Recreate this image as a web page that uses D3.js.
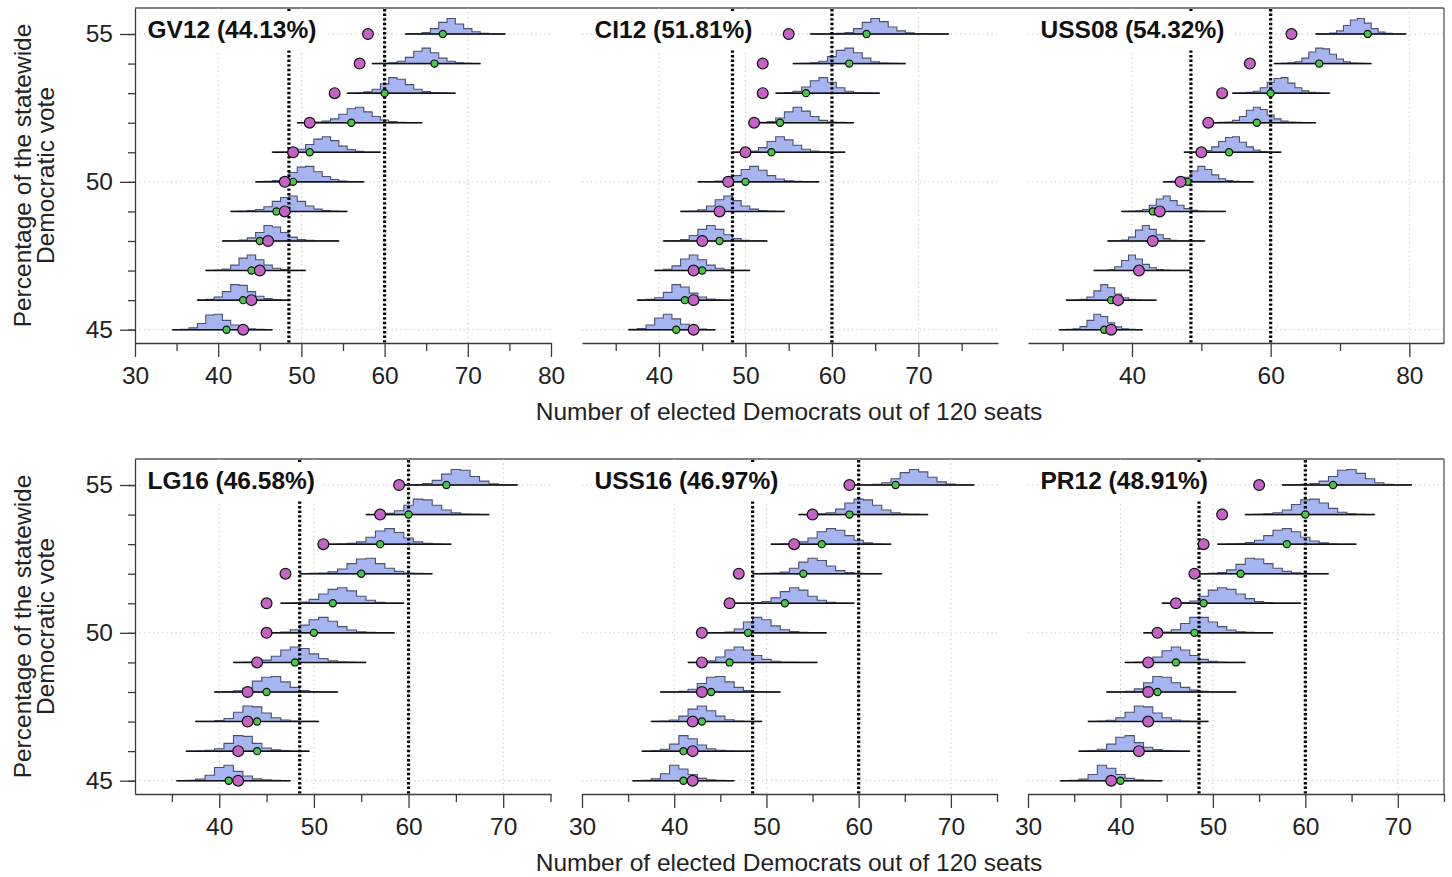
<!DOCTYPE html>
<html><head><meta charset="utf-8">
<script src="https://cdn.jsdelivr.net/npm/d3@7/dist/d3.min.js"></script>
<style>body{margin:0;background:#fff}svg{display:block}</style>
</head><body>
<svg id="chart" width="1452" height="877"></svg>
<script>
// ---------------- DATA ----------------
const voteLevels = [45,46,47,48,49,50,51,52,53,54,55];
const panelTitles = ["GV12 (44.13%)","CI12 (51.81%)","USS08 (54.32%)","LG16 (46.58%)","USS16 (46.97%)","PR12 (48.91%)"];
const yTickLabels = [45,50,55];
const refSeats = [48.5, 60];
const xTitle = "Number of elected Democrats out of 120 seats";
const yTitleLines = ["Percentage of the statewide","Democratic vote"];

const GV12_ticks = [30,40,50,60,70,80], GV12_minor = [35,45,55,65,75];
const CI12_ticks = [40,50,60,70], CI12_minor = [35,45,55,65,75];
const USS08_ticks = [40,60,80], USS08_minor = [30,50,70];
const LG16_ticks = [40,50,60,70], LG16_minor = [35,45,55,65,75];
const USS16_ticks = [30,40,50,60,70], USS16_minor = [35,45,55,65,75];
const PR12_ticks = [30,40,50,60,70], PR12_minor = [35,45,55,65,75];

// seats (green = simulated median, purple = observed), whisker range, histograms (relative, 1-seat bins from lo+0.5)
const GV12_green  = [41,43,44,45,47,49,51,56,60,66,67];
const GV12_purple = [43,44,45,46,48,48,49,51,54,57,58];
const GV12_lo = [34.5,37.5,38.5,40.5,41.5,44.5,46.5,49.5,55.5,58.5,62.5];
const GV12_hi = [46.5,48.5,50.5,54.5,55.5,57.5,59.5,64.5,68.5,71.5,74.5];
const GV12_hist = [
 [1,3,12,40,95,100,60,30,12,5,2,1],
 [2,6,20,55,100,95,55,25,10,4,1],
 [1,3,10,35,80,100,70,35,15,6,2,1],
 [1,2,6,20,55,100,90,55,25,10,5,2,1,1],
 [1,2,5,12,30,65,90,100,65,35,15,6,2,1],
 [1,3,8,25,60,95,100,65,35,15,6,2,1],
 [1,2,6,20,50,85,100,75,40,18,7,2,1],
 [1,2,4,10,25,55,90,100,70,40,18,7,3,1,1],
 [1,3,8,25,60,100,90,55,25,10,4,2,1],
 [1,2,5,15,40,80,100,70,35,15,5,2,1],
 [1,3,10,35,75,100,65,35,15,5,2,1]];

const CI12_green  = [42,43,45,47,47,50,53,54,57,62,64];
const CI12_purple = [44,44,44,45,47,48,50,51,52,52,55];
const CI12_lo = [36.5,37.5,39.5,40.5,42.5,44.5,48.5,51.5,53.5,55.5,57.5];
const CI12_hi = [46.5,48.5,50.5,52.5,54.5,58.5,61.5,62.5,65.5,68.5,73.5];
const CI12_hist = [
 [2,8,30,75,100,70,35,12,4,1],
 [2,5,15,50,100,85,45,20,7,2,1],
 [2,8,30,75,100,70,35,15,5,2,1],
 [1,3,10,35,75,100,75,40,15,5,2,1],
 [1,3,10,35,75,100,70,35,15,5,2,1],
 [1,2,5,15,40,80,100,75,40,18,7,3,1,1],
 [1,3,8,30,70,100,80,45,20,8,3,1,1],
 [2,8,30,70,100,75,40,15,5,2,1],
 [1,4,12,40,80,100,70,35,12,4,2,1],
 [1,2,5,15,45,85,100,70,35,12,4,2,1],
 [1,1,2,4,10,35,75,100,80,45,20,8,3,2,1,1]];

const USS08_green  = [36,37,41,43,43,48,54,58,60,67,74];
const USS08_purple = [37,38,41,43,44,47,50,51,53,57,63];
const USS08_lo = [29.5,30.5,34.5,36.5,38.5,44.5,47.5,51.5,54.5,60.5,66.5];
const USS08_hi = [41.5,43.5,48.5,50.5,53.5,57.5,61.5,66.5,68.5,74.5,79.5];
const USS08_hist = [
 [1,2,5,20,60,100,85,45,18,6,2,1],
 [1,2,5,20,60,100,80,40,15,5,2,1,1],
 [1,2,5,25,65,100,75,40,18,7,3,2,1,1],
 [1,2,6,25,70,100,75,40,15,5,2,1,1,1],
 [1,2,4,12,40,80,100,70,40,18,7,3,1,1,1],
 [1,3,8,30,70,100,80,45,20,8,3,1,1],
 [1,2,5,12,35,70,95,100,65,35,15,5,2,1],
 [1,2,5,15,40,80,100,85,50,25,10,4,2,1,1],
 [1,2,5,12,35,70,95,100,65,35,15,5,2,1],
 [1,2,5,12,35,75,100,95,60,30,12,4,2,1],
 [1,2,6,20,55,90,100,70,35,12,4,2,1]];

const LG16_green  = [41,44,44,45,48,50,52,55,57,60,64];
const LG16_purple = [42,42,43,43,44,45,45,47,51,57,59];
const LG16_lo = [35.5,36.5,37.5,39.5,41.5,45.5,46.5,48.5,51.5,55.5,59.5];
const LG16_hi = [47.5,49.5,50.5,52.5,55.5,58.5,59.5,62.5,64.5,68.5,71.5];
const LG16_hist = [
 [1,3,10,35,85,100,60,30,12,5,2,1],
 [1,2,5,15,50,100,95,50,20,8,3,1,1],
 [1,2,6,20,60,100,95,55,25,10,4,2,1],
 [1,3,8,25,70,95,100,65,30,10,3,1,1],
 [1,2,5,15,40,80,100,90,55,25,10,4,2,1],
 [2,6,20,50,85,100,75,40,18,7,3,1,1],
 [1,3,8,25,60,90,100,80,45,20,7,2,1],
 [1,2,4,12,30,65,95,100,65,35,15,5,2,1],
 [1,2,5,15,45,85,100,75,40,15,5,2,1],
 [1,3,8,25,60,100,95,60,30,12,4,2,1],
 [1,3,10,30,70,100,95,55,25,8,3,1]];

const USS16_green  = [41,41,43,44,46,48,52,54,56,59,64];
const USS16_purple = [42,42,42,43,43,43,46,47,53,55,59];
const USS16_lo = [35.5,36.5,37.5,38.5,41.5,43.5,46.5,48.5,50.5,53.5,59.5];
const USS16_hi = [46.5,48.5,49.5,51.5,55.5,56.5,59.5,62.5,63.5,67.5,72.5];
const USS16_hist = [
 [1,3,12,45,100,75,40,15,5,2,1],
 [1,3,12,45,100,80,40,15,5,2,1,1],
 [1,3,10,35,80,100,70,35,12,4,2,1],
 [1,2,5,18,55,95,100,65,30,10,3,1,1],
 [1,3,10,35,80,100,80,45,20,8,3,2,1,1],
 [1,2,6,25,70,100,85,45,20,8,3,1,1],
 [1,2,5,12,35,75,100,85,45,20,7,2,1],
 [1,2,4,10,35,75,100,85,50,20,8,3,1,1],
 [1,2,5,15,40,80,100,90,55,25,8,2,1],
 [1,2,5,12,35,75,100,95,60,30,12,4,2,1],
 [1,2,5,15,40,80,100,85,50,20,7,2,1]];

const PR12_green  = [40,42,43,44,46,48,49,53,58,60,63];
const PR12_purple = [39,42,43,43,43,44,46,48,49,51,55];
const PR12_lo = [33.5,35.5,36.5,38.5,40.5,42.5,44.5,48.5,50.5,53.5,57.5];
const PR12_hi = [44.5,47.5,49.5,52.5,53.5,56.5,59.5,62.5,65.5,67.5,71.5];
const PR12_hist = [
 [1,3,10,40,100,80,40,15,5,2,1],
 [1,3,12,45,90,100,55,25,10,4,2,1],
 [1,3,8,25,60,100,95,55,25,10,4,2,1],
 [1,2,5,20,60,100,95,60,30,12,5,2,1,1],
 [1,3,10,35,75,100,80,45,20,8,3,1,1],
 [1,2,6,20,60,100,100,70,40,18,7,3,1,1],
 [1,2,5,15,45,85,100,90,60,30,12,5,2,1,1],
 [1,3,8,25,60,100,95,65,35,15,6,2,1,1],
 [1,2,4,10,25,55,90,100,80,45,20,8,3,1,1],
 [1,2,5,12,30,65,95,100,75,40,15,5,2,1],
 [1,2,4,10,25,55,95,100,75,40,15,5,2,1]];

// ---------------- LAYOUT ----------------
const FONT = "'Liberation Sans', Arial, Helvetica, sans-serif";
const rows = [{top:8, bottom:343}, {top:459, bottom:794}];
const panels = [
 {title:panelTitles[0], row:0, col:0, xr:[135,551], dom:[30,80],   ticks:GV12_ticks, minor:GV12_minor, g:GV12_green, p:GV12_purple, lo:GV12_lo, hi:GV12_hi, hist:GV12_hist},
 {title:panelTitles[1], row:0, col:1, xr:[582,998], dom:[31.1,79.2], ticks:CI12_ticks, minor:CI12_minor, g:CI12_green, p:CI12_purple, lo:CI12_lo, hi:CI12_hi, hist:CI12_hist},
 {title:panelTitles[2], row:0, col:2, xr:[1028,1444], dom:[25,85], ticks:USS08_ticks, minor:USS08_minor, g:USS08_green, p:USS08_purple, lo:USS08_lo, hi:USS08_hi, hist:USS08_hist},
 {title:panelTitles[3], row:1, col:0, xr:[135,551], dom:[31.1,75.05], ticks:LG16_ticks, minor:LG16_minor, g:LG16_green, p:LG16_purple, lo:LG16_lo, hi:LG16_hi, hist:LG16_hist},
 {title:panelTitles[4], row:1, col:1, xr:[582,997], dom:[30,75],   ticks:USS16_ticks, minor:USS16_minor, g:USS16_green, p:USS16_purple, lo:USS16_lo, hi:USS16_hi, hist:USS16_hist},
 {title:panelTitles[5], row:1, col:2, xr:[1028,1444], dom:[30,75], ticks:PR12_ticks, minor:PR12_minor, g:PR12_green, p:PR12_purple, lo:PR12_lo, hi:PR12_hi, hist:PR12_hist}
];

const svg = d3.select("#chart");
const AX = "#3a3a3a";
const hScale = d3.scaleLinear().domain([0,100]).range([0,15.5]);

function styleAxis(g){
  g.attr("font-size", null).attr("font-family", null);
  g.selectAll("path.domain").attr("stroke", AX).attr("stroke-width", 1.3);
  g.selectAll(".tick line").attr("stroke", AX).attr("stroke-width", 1.3);
  g.selectAll(".tick text").attr("fill", "#222").style("font-family", FONT).style("font-size", "24.5px");
}

// frames per row
rows.forEach(r => {
  svg.append("line").attr("x1",135).attr("x2",1444).attr("y1",r.top).attr("y2",r.top).attr("stroke","#555").attr("stroke-width",1.3);
  svg.append("line").attr("x1",1444).attr("x2",1444).attr("y1",r.top).attr("y2",r.bottom).attr("stroke","#555").attr("stroke-width",1.3);
});

panels.forEach(P => {
  const R = rows[P.row];
  const x = d3.scaleLinear().domain(P.dom).range(P.xr);
  const y = d3.scaleLinear().domain([44.55,55.88]).range([R.bottom, R.top]);
  const g = svg.append("g");

  // grid
  const grid = g.append("g").attr("stroke","#bdbdbd").attr("stroke-width",1).attr("stroke-dasharray","1.2,3.3");
  P.ticks.filter(t => x(t) > P.xr[0]+2 && x(t) < P.xr[1]-2).forEach(t => {
    grid.append("line").attr("x1",x(t)).attr("x2",x(t)).attr("y1",R.top).attr("y2",R.bottom);
  });
  yTickLabels.forEach(v => {
    grid.append("line").attr("x1",P.xr[0]).attr("x2",P.xr[1]).attr("y1",y(v)).attr("y2",y(v));
  });

  // histograms
  const area = d3.area().curve(d3.curveStepAfter);
  voteLevels.forEach((v,i) => {
    const base = y(v);
    const start = P.lo[i] + 0.5;
    const pts = P.hist[i].map((h,j) => [start + j - 0.5, h]);
    pts.push([start + P.hist[i].length - 0.5, P.hist[i][P.hist[i].length-1]]);
    area.x(d => x(d[0])).y0(base).y1(d => base - hScale(d[1]));
    g.append("path").attr("d", area(pts)).attr("fill","#a6b5ef").attr("stroke","#4a5272").attr("stroke-width",1.1);
  });

  // reference dotted lines
  refSeats.forEach(s => {
    g.append("line").attr("x1",x(s)).attr("x2",x(s)).attr("y1",R.top+1).attr("y2",R.bottom)
      .attr("stroke","#000").attr("stroke-width",3.2).attr("stroke-dasharray","2.4,2.2");
  });

  // whiskers + points
  voteLevels.forEach((v,i) => {
    const base = y(v);
    g.append("line").attr("x1",x(P.lo[i])).attr("x2",x(P.hi[i])).attr("y1",base).attr("y2",base)
      .attr("stroke","#111").attr("stroke-width",1.5);
  });
  voteLevels.forEach((v,i) => {
    g.append("circle").attr("cx",x(P.g[i])).attr("cy",y(v)).attr("r",3.6).attr("fill","#47c847").attr("stroke","#111").attr("stroke-width",1.2);
  });
  voteLevels.forEach((v,i) => {
    g.append("circle").attr("cx",x(P.p[i])).attr("cy",y(v)).attr("r",5.4).attr("fill","#c462c6").attr("stroke","#111").attr("stroke-width",1.2);
  });

  // title with white background
  const tg = g.append("g");
  const rect = tg.append("rect").attr("fill","#fff");
  const tt = tg.append("text").attr("x",P.xr[0]+12.5).attr("y",R.top+30)
     .style("font-family",FONT).style("font-weight","bold").style("font-size","24.5px").attr("fill","#111").text(P.title);
  const bb = tt.node().getBBox();
  rect.attr("x",bb.x-2).attr("y",R.top+3).attr("width",bb.width+11).attr("height",39);

  // x axis
  const xa = g.append("g").attr("transform",`translate(0,${R.bottom})`)
    .call(d3.axisBottom(x).tickValues(P.ticks).tickSize(14).tickSizeOuter(0).tickPadding(10).tickFormat(d3.format("d")));
  styleAxis(xa);
  const xm = g.append("g").attr("transform",`translate(0,${R.bottom})`)
    .call(d3.axisBottom(x).tickValues(P.minor).tickSize(8).tickSizeOuter(0).tickFormat(""));
  styleAxis(xm);
  xm.select("path.domain").remove();

  if (P.col === 0) {
    const ya = g.append("g").attr("transform",`translate(${P.xr[0]},0)`)
      .call(d3.axisLeft(y).tickValues(yTickLabels).tickSize(15).tickSizeOuter(0).tickPadding(7).tickFormat(d3.format("d")));
    styleAxis(ya);
    const ym = g.append("g").attr("transform",`translate(${P.xr[0]},0)`)
      .call(d3.axisLeft(y).tickValues(voteLevels).tickSize(7).tickSizeOuter(0).tickFormat(""));
    styleAxis(ym);
    ym.select("path.domain").remove();
  }
});

// axis titles
rows.forEach((r,ri) => {
  svg.append("text").attr("x",789).attr("y",r.bottom + 77).attr("text-anchor","middle")
    .style("font-family",FONT).style("font-size","24.5px").attr("fill","#222").text(xTitle);
  const cy = (r.top + r.bottom)/2;
  [22,45].forEach((cx,li) => {
    svg.append("text").attr("transform",`translate(${cx},${cy}) rotate(-90)`).attr("dy","0.35em")
      .attr("text-anchor","middle").style("font-family",FONT).style("font-size","24.5px").attr("fill","#222").text(yTitleLines[li]);
  });
});
</script>
</body></html>
